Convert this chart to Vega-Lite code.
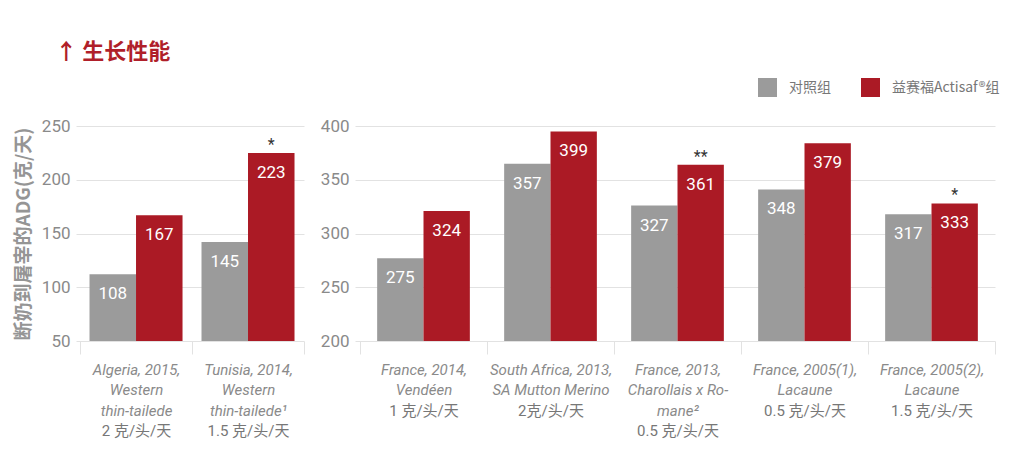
{
  "$schema": "https://vega.github.io/schema/vega-lite/v6.json",
  "padding": {"left": 14, "top": 41, "right": 0, "bottom": 0},
  "background": "white",
  "title": {
    "text": "↑ 生长性能",
    "anchor": "start",
    "font": "Noto Sans CJK SC",
    "fontSize": 22,
    "fontWeight": "bold",
    "color": "#b01f2a",
    "offset": 14,
    "dx": 41
  },
  "datasets": {
    "adg": [
      {"panel": 1, "study": "Algeria, 2015,\nWestern\nthin-tailede\n2 克/头/天", "group": "对照组", "adg": 112, "label": "108", "sig": ""},
      {"panel": 1, "study": "Algeria, 2015,\nWestern\nthin-tailede\n2 克/头/天", "group": "益赛福Actisaf®组", "adg": 167, "label": "167", "sig": ""},
      {"panel": 1, "study": "Tunisia, 2014,\nWestern\nthin-tailede¹\n1.5 克/头/天", "group": "对照组", "adg": 142, "label": "145", "sig": ""},
      {"panel": 1, "study": "Tunisia, 2014,\nWestern\nthin-tailede¹\n1.5 克/头/天", "group": "益赛福Actisaf®组", "adg": 225, "label": "223", "sig": "*"},
      {"panel": 2, "study": "France, 2014,\nVendéen\n1 克/头/天", "group": "对照组", "adg": 277, "label": "275", "sig": ""},
      {"panel": 2, "study": "France, 2014,\nVendéen\n1 克/头/天", "group": "益赛福Actisaf®组", "adg": 321, "label": "324", "sig": ""},
      {"panel": 2, "study": "South Africa, 2013,\nSA Mutton Merino\n2克/头/天", "group": "对照组", "adg": 365, "label": "357", "sig": ""},
      {"panel": 2, "study": "South Africa, 2013,\nSA Mutton Merino\n2克/头/天", "group": "益赛福Actisaf®组", "adg": 395, "label": "399", "sig": ""},
      {"panel": 2, "study": "France, 2013,\nCharollais x Ro-\nmane²\n0.5 克/头/天", "group": "对照组", "adg": 326, "label": "327", "sig": ""},
      {"panel": 2, "study": "France, 2013,\nCharollais x Ro-\nmane²\n0.5 克/头/天", "group": "益赛福Actisaf®组", "adg": 364, "label": "361", "sig": "**"},
      {"panel": 2, "study": "France, 2005(1),\nLacaune\n0.5 克/头/天", "group": "对照组", "adg": 341, "label": "348", "sig": ""},
      {"panel": 2, "study": "France, 2005(1),\nLacaune\n0.5 克/头/天", "group": "益赛福Actisaf®组", "adg": 384, "label": "379", "sig": ""},
      {"panel": 2, "study": "France, 2005(2),\nLacaune\n1.5 克/头/天", "group": "对照组", "adg": 318, "label": "317", "sig": ""},
      {"panel": 2, "study": "France, 2005(2),\nLacaune\n1.5 克/头/天", "group": "益赛福Actisaf®组", "adg": 328, "label": "333", "sig": "*"}
    ]
  },
  "data": {"name": "adg"},
  "spacing": 15,
  "hconcat": [
    {
      "width": 228,
      "height": 215,
      "transform": [{"filter": "datum.panel === 1"}],
      "encoding": {
        "xOffset": {"field": "group", "type": "nominal", "sort": ["对照组", "益赛福Actisaf®组"], "scale": {"paddingInner": 0, "paddingOuter": 0.204}},
        "y": {
          "field": "adg", "type": "quantitative",
          "scale": {"domain": [50, 250], "nice": false, "zero": false},
          "axis": {
            "values": [50, 100, 150, 200, 250],
            "title": "断奶到屠宰的ADG(克/天)",
            "titleFont": "Noto Sans CJK SC",
            "titleFontSize": 19,
            "titleFontWeight": "bold",
            "titleColor": "#959595",
            "titlePadding": 8,
            "domain": false, "ticks": false,
            "labelFont": "Roboto", "labelFontSize": 17, "labelColor": "#8a8a8a", "labelPadding": 6,
            "grid": true, "gridColor": "#e2e2e2"
          }
        }
      },
      "layer": [
        {
          "mark": {"type": "bar", "clip": true},
          "encoding": {
            "x": {
              "field": "study", "type": "nominal", "sort": null,
              "scale": {"paddingInner": 0, "paddingOuter": 0.018, "align": 1},
              "axis": {
                "orient": "bottom", "title": null, "domain": false, "grid": false,
                "ticks": true, "tickBand": "extent", "tickSize": 13, "tickColor": "#e2e2e2",
                "labelExpr": "datum.value ? slice(split(datum.value, '\\n'), 0, -1) : ''",
                "labelFont": "Roboto", "labelFontStyle": "italic", "labelFontSize": 15, "labelColor": "#8a8a8a",
                "labelLineHeight": 20.5, "labelPadding": 8, "labelAngle": 0, "labelOverlap": false, "labelLimit": 0
              }
            },
            "color": {
              "field": "group", "type": "nominal",
              "scale": {"domain": ["对照组", "益赛福Actisaf®组"], "range": ["#9b9b9b", "#ab1a25"]},
              "legend": {
                "title": null, "orient": "none", "direction": "horizontal",
                "legendX": 682, "legendY": -48,
                "symbolType": "square", "symbolSize": 361, "symbolStrokeWidth": 0, "symbolOpacity": 1,
                "labelFont": "Noto Sans CJK SC", "labelFontSize": 14, "labelColor": "#777777",
                "labelOffset": 12, "columnPadding": 30
              }
            }
          }
        },
        {
          "mark": {"type": "text", "color": "white", "font": "Roboto", "fontSize": 17, "fontWeight": 400, "baseline": "middle", "dy": 20},
          "encoding": {
            "x": {
              "field": "study", "type": "nominal", "sort": null,
              "axis": {
                "orient": "bottom", "title": null, "domain": false, "grid": false,
                "ticks": true, "tickBand": "extent", "tickSize": 13, "tickOpacity": 0,
                "labelExpr": "datum.value ? peek(split(datum.value, '\\n')) : ''",
                "labelFont": "Roboto, Noto Sans CJK SC", "labelFontSize": 15, "labelColor": "#777777",
                "labelPadding": {"condition": {"test": "datum.value && length(split(datum.value, '\\n')) === 4", "value": 69.5}, "value": 49},
                "labelAngle": 0, "labelOverlap": false, "labelLimit": 0
              }
            },
            "text": {"field": "label"}
          }
        },
        {
          "mark": {"type": "text", "color": "#333333", "font": "Roboto", "fontSize": 16, "baseline": "alphabetic", "dy": -3},
          "encoding": {
            "x": {"field": "study", "type": "nominal", "sort": null, "axis": null},
            "text": {"field": "sig"}
          }
        }
      ],
      "resolve": {"axis": {"x": "independent"}}
    },
    {
      "width": 640,
      "height": 215,
      "transform": [{"filter": "datum.panel === 2"}],
      "encoding": {
        "xOffset": {"field": "group", "type": "nominal", "sort": ["对照组", "益赛福Actisaf®组"], "scale": {"paddingInner": 0, "paddingOuter": 0.37}},
        "y": {
          "field": "adg", "type": "quantitative",
          "scale": {"domain": [200, 400], "nice": false, "zero": false},
          "axis": {
            "values": [200, 250, 300, 350, 400],
            "title": null,
            "domain": false, "ticks": false,
            "labelFont": "Roboto", "labelFontSize": 17, "labelColor": "#8a8a8a", "labelPadding": 6,
            "grid": true, "gridColor": "#e2e2e2"
          }
        }
      },
      "layer": [
        {
          "mark": {"type": "bar", "clip": true},
          "encoding": {
            "x": {
              "field": "study", "type": "nominal", "sort": null,
              "scale": {"paddingInner": 0, "paddingOuter": 0.0197, "align": 1},
              "axis": {
                "orient": "bottom", "title": null, "domain": false, "grid": false,
                "ticks": true, "tickBand": "extent", "tickSize": 13, "tickColor": "#e2e2e2",
                "labelExpr": "datum.value ? slice(split(datum.value, '\\n'), 0, -1) : ''",
                "labelFont": "Roboto", "labelFontStyle": "italic", "labelFontSize": 15, "labelColor": "#8a8a8a",
                "labelLineHeight": 20.5, "labelPadding": 8, "labelAngle": 0, "labelOverlap": false, "labelLimit": 0
              }
            },
            "color": {
              "field": "group", "type": "nominal",
              "scale": {"domain": ["对照组", "益赛福Actisaf®组"], "range": ["#9b9b9b", "#ab1a25"]}
            }
          }
        },
        {
          "mark": {"type": "text", "color": "white", "font": "Roboto", "fontSize": 17, "fontWeight": 400, "baseline": "middle", "dy": 20},
          "encoding": {
            "x": {
              "field": "study", "type": "nominal", "sort": null,
              "axis": {
                "orient": "bottom", "title": null, "domain": false, "grid": false,
                "ticks": true, "tickBand": "extent", "tickSize": 13, "tickOpacity": 0,
                "labelExpr": "datum.value ? peek(split(datum.value, '\\n')) : ''",
                "labelFont": "Roboto, Noto Sans CJK SC", "labelFontSize": 15, "labelColor": "#777777",
                "labelPadding": {"condition": {"test": "datum.value && length(split(datum.value, '\\n')) === 4", "value": 69.5}, "value": 49},
                "labelAngle": 0, "labelOverlap": false, "labelLimit": 0
              }
            },
            "text": {"field": "label"}
          }
        },
        {
          "mark": {"type": "text", "color": "#333333", "font": "Roboto", "fontSize": 16, "baseline": "alphabetic", "dy": -3},
          "encoding": {
            "x": {"field": "study", "type": "nominal", "sort": null, "axis": null},
            "text": {"field": "sig"}
          }
        }
      ],
      "resolve": {"axis": {"x": "independent"}}
    }
  ],
  "resolve": {"scale": {"x": "independent", "y": "independent", "xOffset": "independent"}},
  "config": {
    "view": {"stroke": null},
    "axis": {"labelFont": "Roboto"}
  }
}
